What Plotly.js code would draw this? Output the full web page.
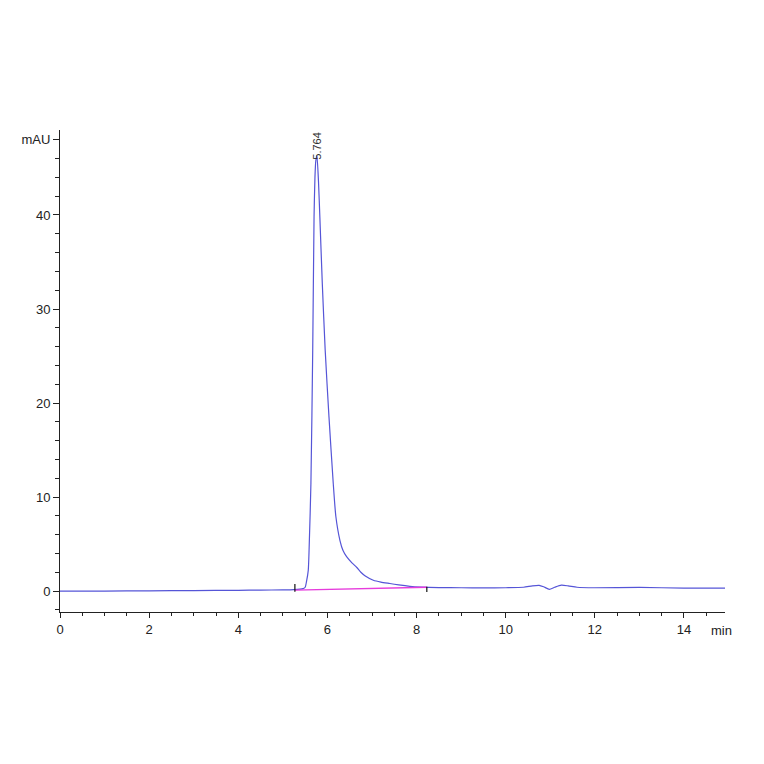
<!DOCTYPE html>
<html>
<head>
<meta charset="utf-8">
<script src="https://cdn.plot.ly/plotly-3.0.1.min.js"></script>
<style>
  html, body { margin: 0; padding: 0; background: #fff; }
  #chart { width: 764px; height: 764px; }
</style>
</head>
<body>
<div id="chart"></div>
<script>
// signal (min, mAU)
let times = [0, 1, 2, 3, 4, 4.5, 5.0, 5.25, 5.45, 5.5, 5.53, 5.57, 5.59, 5.63, 5.67,
    5.7, 5.72, 5.74, 5.764, 5.8, 5.83, 5.885, 5.95, 6.035, 6.13, 6.19, 6.28, 6.35,
    6.43, 6.55, 6.66, 6.75, 6.85, 7.03, 7.2, 7.4, 7.6, 7.85, 8.1, 8.5, 9.0, 9.5, 10.0,
    10.4, 10.6, 10.75, 10.85, 10.98, 11.1, 11.25, 11.4, 11.6, 12.0, 13.0, 14.0, 14.92];
let signal = [0, 0, 0.02, 0.05, 0.08, 0.1, 0.12, 0.15, 0.25, 0.4, 1.0, 2.2, 4.6, 11.5, 25.6,
    39.8, 44.0, 45.8, 46.3, 43.5, 39.8, 32.7, 25.6, 18.5, 11.5, 7.9, 5.4, 4.3,
    3.65, 3.0, 2.5, 2.0, 1.6, 1.15, 0.95, 0.8, 0.65, 0.5, 0.42, 0.36, 0.35, 0.33, 0.35,
    0.4, 0.55, 0.6, 0.45, 0.18, 0.4, 0.62, 0.55, 0.4, 0.35, 0.38, 0.32, 0.32];

// integration baseline and its start/stop marks
let baseTimes = [5.27, 8.23];
let baseValues = [0.1, 0.4];
let markLow = [-0.07, -0.1];
let markHigh = [0.74, 0.46];

let peakTime = 5.764;
let peakHeight = 46.3;
let peakLabel = "5.764";

let xTicks = [0, 2, 4, 6, 8, 10, 12, 14];
let yTicks = [0, 10, 20, 30, 40, 48];
let yTickText = ["0", "10", "20", "30", "40", "mAU"];

let tickFont = { family: "Liberation Sans Narrow, Liberation Sans, Arial, sans-serif", size: 13, color: "#222" };

let traces = [
    {
        x: times, y: signal, type: "scatter", mode: "lines",
        line: { color: "rgb(85,85,215)", width: 1.2, shape: "spline", smoothing: 0.6 },
        hoverinfo: "skip"
    },
    {
        x: baseTimes, y: baseValues, type: "scatter", mode: "lines",
        line: { color: "rgb(230,60,220)", width: 1.4 },
        hoverinfo: "skip"
    }
];

let marks = baseTimes.map((t, i) => ({
    type: "line", xref: "x", yref: "y",
    x0: t, x1: t, y0: markLow[i], y1: markHigh[i],
    line: { color: "#111", width: 1.2 }
}));

let layout = {
    width: 764, height: 764,
    margin: { l: 60, r: 39, t: 130, b: 152 },
    paper_bgcolor: "#fff", plot_bgcolor: "#fff",
    showlegend: false,
    xaxis: {
        range: [0, 14.92], showgrid: false, zeroline: false,
        showline: true, linecolor: "#222", linewidth: 1,
        ticks: "outside", ticklen: 5, tickcolor: "#222",
        tickvals: xTicks, tickfont: tickFont,
        minor: { dtick: 0.5, ticks: "outside", ticklen: 3, tickcolor: "#222" }
    },
    yaxis: {
        range: [-2.23, 49.04], showgrid: false, zeroline: false,
        showline: true, linecolor: "#222", linewidth: 1,
        ticks: "outside", ticklen: 6, tickcolor: "#222",
        tickvals: yTicks, ticktext: yTickText, tickfont: tickFont,
        minor: { dtick: 2, ticks: "outside", ticklen: 4, tickcolor: "#222" }
    },
    shapes: marks,
    annotations: [
        {
            x: peakTime, y: peakHeight, xref: "x", yref: "y",
            text: peakLabel, textangle: -90, showarrow: false,
            xanchor: "center", yanchor: "bottom", yshift: -6,
            font: { family: "Liberation Sans, Arial, sans-serif", size: 11, color: "#333" }
        },
        {
            x: 1, y: 0, xref: "paper", yref: "paper",
            text: "min", showarrow: false,
            xanchor: "center", yanchor: "top", xshift: -4, yshift: -9,
            font: tickFont
        }
    ]
};

Plotly.newPlot("chart", traces, layout, { staticPlot: true, displayModeBar: false });
</script>
</body>
</html>
